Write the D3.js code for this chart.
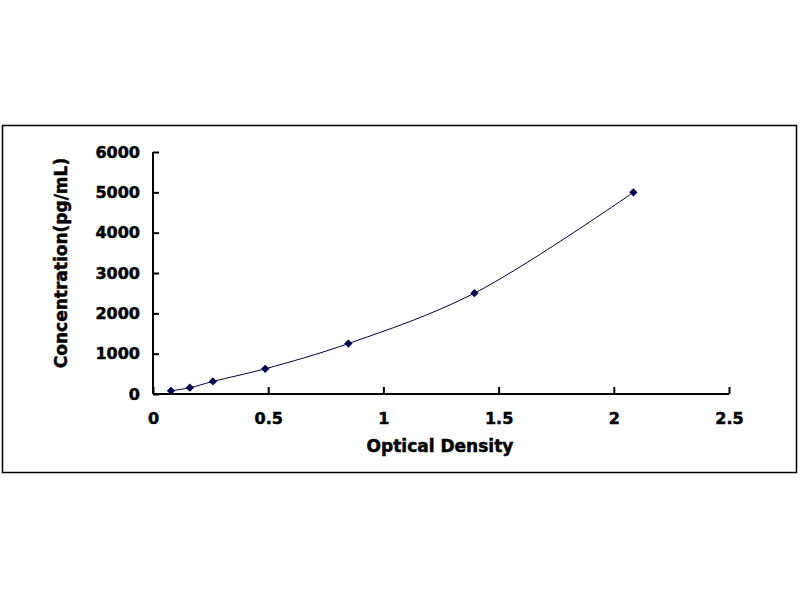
<!DOCTYPE html>
<html>
<head>
<meta charset="utf-8">
<script src="https://cdn.jsdelivr.net/npm/d3@7"></script>
<style>
  body { margin: 0; background: #fff; }
  text { font-family: "DejaVu Sans", Verdana, sans-serif; font-weight: bold; fill: #000; stroke: #000; stroke-width: 0.5px; }
</style>
</head>
<body>
<script>
// standard curve points
var od = [0.078, 0.16, 0.26, 0.487, 0.848, 1.395, 2.085];
var conc = [78, 156, 312, 625, 1250, 2500, 5000];
var xTicks = [0, 0.5, 1, 1.5, 2, 2.5];
var yTicks = [0, 1000, 2000, 3000, 4000, 5000, 6000];

var width = 800, height = 600;
var fontStack = "'DejaVu Sans', Verdana, sans-serif";
var svg = d3.select("body").append("svg")
  .attr("width", width)
  .attr("height", height);

// outer frame
svg.append("rect")
  .attr("x", 2.5).attr("y", 125.5)
  .attr("width", 794).attr("height", 347)
  .attr("fill", "#fff")
  .attr("stroke", "#000")
  .attr("stroke-width", 1.5);

var x = d3.scaleLinear().domain([0, 2.5]).range([153, 729]);
var y = d3.scaleLinear().domain([0, 6000]).range([394, 152]);

// x axis
var xAxis = svg.append("g")
  .attr("transform", "translate(0," + y(0) + ")")
  .call(d3.axisBottom(x).tickValues(xTicks).tickSize(-7).tickPadding(18.5)
    .tickFormat(function(d) { return d; }));
xAxis.select(".domain").attr("stroke-width", 2).attr("d", "M" + x(0) + ",0H" + x(2.5));
xAxis.selectAll(".tick line").attr("stroke-width", 2);
xAxis.selectAll(".tick text").attr("font-size", 16).attr("font-family", fontStack).attr("font-weight", "bold");

// y axis
var yAxis = svg.append("g")
  .attr("transform", "translate(" + x(0) + ",0)")
  .call(d3.axisLeft(y).tickValues(yTicks).tickSize(-6).tickPadding(13)
    .tickFormat(function(d) { return d; }));
yAxis.select(".domain").attr("stroke-width", 2).attr("d", "M0," + y(0) + "V" + y(6000));
yAxis.selectAll(".tick line").attr("stroke-width", 2);
yAxis.selectAll(".tick text").attr("font-size", 16).attr("font-family", fontStack).attr("font-weight", "bold");

// axis titles
svg.append("text")
  .attr("x", 440).attr("y", 452)
  .attr("text-anchor", "middle")
  .attr("font-size", 17)
  .text("Optical Density");

svg.append("text")
  .attr("transform", "translate(67,263) rotate(-90)")
  .attr("text-anchor", "middle")
  .attr("font-size", 17)
  .text("Concentration(pg/mL)");

var pts = od.map(function(d, i) { return [d, conc[i]]; });

// smoothed curve
var line = d3.line()
  .x(function(d) { return x(d[0]); })
  .y(function(d) { return y(d[1]); })
  .curve(d3.curveCatmullRom.alpha(0.5));

svg.append("path")
  .datum(pts)
  .attr("d", line)
  .attr("fill", "none")
  .attr("stroke", "#000033")
  .attr("stroke-width", 1);

// diamond markers
svg.selectAll("path.dot")
  .data(pts)
  .enter()
  .append("path")
  .attr("class", "dot")
  .attr("d", d3.symbol().type(d3.symbolDiamond2).size(44))
  .attr("transform", function(d) { return "translate(" + x(d[0]) + "," + y(d[1]) + ")"; })
  .attr("fill", "#000050");
</script>
</body>
</html>
